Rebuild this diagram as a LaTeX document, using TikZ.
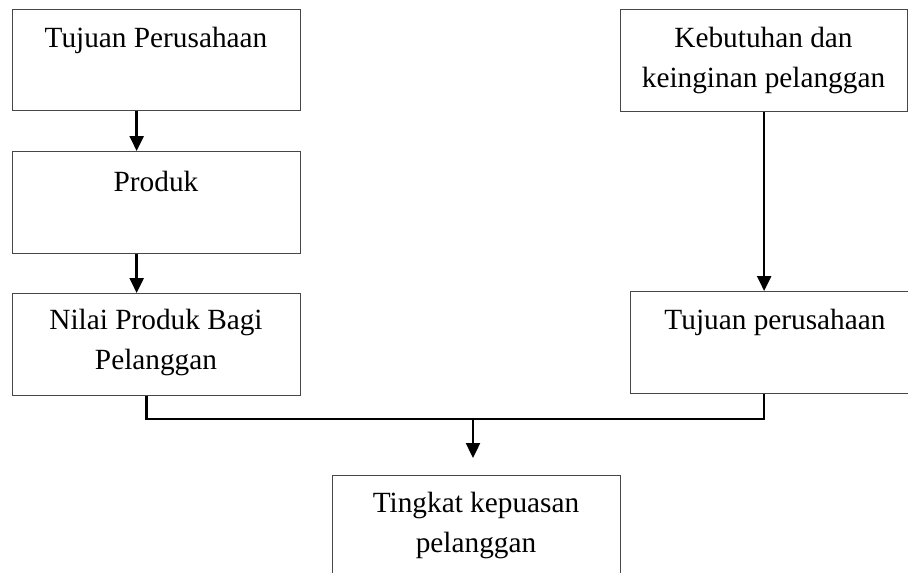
\documentclass[tikz,border=0pt]{standalone}
\usepackage{fontspec}
\setmainfont{Liberation Serif}
\usetikzlibrary{arrows.meta}
\begin{document}
\begin{tikzpicture}[x=1pt,y=-1pt,
  box/.style={draw=black!72, line width=1.3pt, inner sep=0pt, anchor=north west},
  txt/.style={inner sep=0pt, anchor=base, align=center, font=\fontsize{29.3}{40}\selectfont},
  link/.style={line width=2.4pt, black},
  arr/.style={link, -{Triangle[length=15pt,width=14pt]}}]
\useasboundingbox (0,0) rectangle (908,573);
\fill[white] (0,0) rectangle (908,573);
\clip (0,0) rectangle (908,573);
% boxes
\node[box, minimum width=288pt, minimum height=101pt] (b1) at (12,9) {};
\node[box, minimum width=288pt, minimum height=102pt] (b2) at (12,151) {};
\node[box, minimum width=288pt, minimum height=102pt] (b3) at (12,293) {};
\node[box, minimum width=287pt, minimum height=102pt] (b4) at (620,9) {};
\node[box, minimum width=290pt, minimum height=102pt] (b5) at (630,291) {};
\node[box, minimum width=288pt, minimum height=110pt] (b6) at (332,475) {};
% texts (multi-line nodes are placed by the baseline of their last line)
\node[txt] (t1) at (156,47) {Tujuan Perusahaan};
\node[txt] (t2) at (156,191) {Produk};
\node[txt] (t3) at (156,369) {Nilai Produk Bagi\\Pelanggan};
\node[txt] (t4) at (763.5,87) {Kebutuhan dan\\keinginan pelanggan};
\node[txt] (t5) at (775,329) {Tujuan perusahaan};
\node[txt] (t6) at (476,552) {Tingkat kepuasan\\pelanggan};
% connectors
\draw[arr] ([xshift=-20pt]b1.south) -- ([xshift=-20pt]b2.north);
\draw[arr] ([xshift=-20pt]b2.south) -- ([xshift=-20pt]b3.north);
\draw[arr] (b4.south) -- (b4.south |- b5.north);
\coordinate (j) at (473,419);
\coordinate (e) at (473,458);
\draw[link] ([xshift=-10pt]b3.south) |- (b4.south |- j) -- (b4.south |- b5.south);
\draw[arr] (j) -- (e);
\end{tikzpicture}
\end{document}
